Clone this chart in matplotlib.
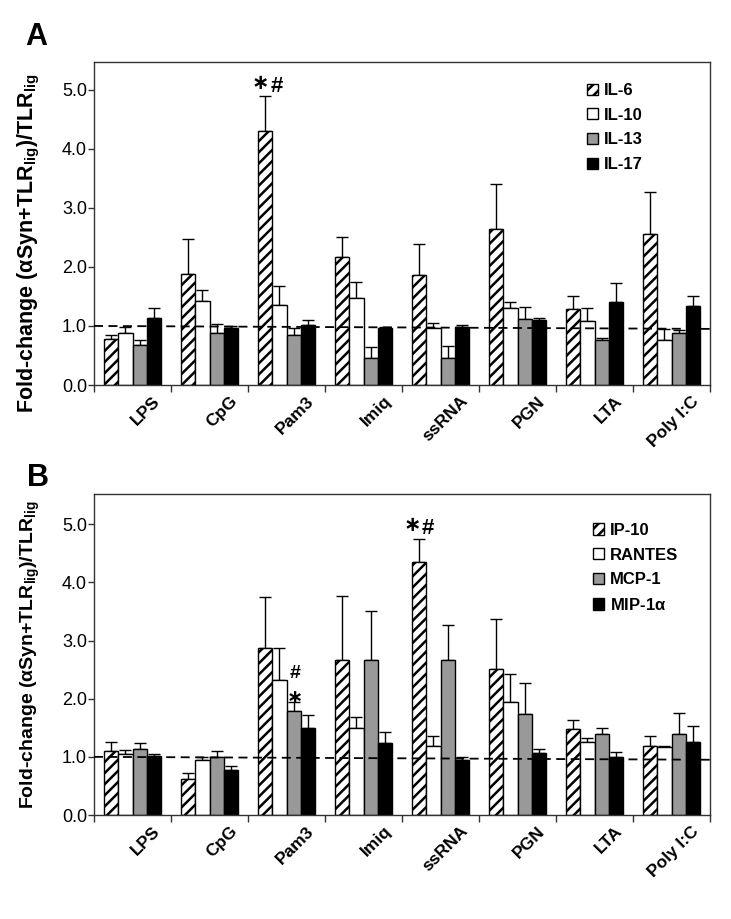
import matplotlib
matplotlib.use("Agg")
import matplotlib.pyplot as plt
import matplotlib.patches as mpatches
from matplotlib.transforms import ScaledTranslation
import numpy as np

plt.rcParams['font.family'] = ['Liberation Sans', 'DejaVu Sans']
plt.rcParams['mathtext.fontset'] = 'custom'
plt.rcParams['mathtext.rm'] = 'Liberation Sans:bold'
plt.rcParams['mathtext.bf'] = 'Liberation Sans:bold'
plt.rcParams['mathtext.it'] = 'Liberation Sans:bold'
plt.rcParams['hatch.linewidth'] = 1.8

categories = ["LPS", "CpG", "Pam3", "Imiq", "ssRNA", "PGN", "LTA", "Poly I:C"]

# Panel A
series_a = ["IL-6", "IL-10", "IL-13", "IL-17"]
il6 = [0.78, 1.88, 4.30, 2.17, 1.86, 2.64, 1.28, 2.56]
il6_err = [0.07, 0.59, 0.60, 0.33, 0.53, 0.77, 0.22, 0.71]
il10 = [0.88, 1.42, 1.35, 1.48, 0.97, 1.30, 1.08, 0.76]
il10_err = [0.10, 0.19, 0.33, 0.26, 0.08, 0.10, 0.22, 0.19]
il13 = [0.67, 0.88, 0.84, 0.45, 0.46, 1.12, 0.76, 0.88]
il13_err = [0.10, 0.15, 0.12, 0.20, 0.20, 0.20, 0.04, 0.05]
il17 = [1.13, 0.96, 1.01, 0.96, 0.98, 1.10, 1.40, 1.34]
il17_err = [0.17, 0.04, 0.09, 0.02, 0.04, 0.03, 0.32, 0.16]

# Panel B
series_b = ["IP-10", "RANTES", "MCP-1", r"MIP-1$\mathregular{\alpha}$"]
ip10 = [1.10, 0.62, 2.87, 2.66, 4.35, 2.51, 1.48, 1.18]
ip10_err = [0.15, 0.11, 0.88, 1.10, 0.39, 0.86, 0.15, 0.18]
rantes = [1.05, 0.95, 2.32, 1.50, 1.18, 1.94, 1.25, 1.17]
rantes_err = [0.07, 0.05, 0.55, 0.18, 0.18, 0.48, 0.07, 0.01]
mcp1 = [1.13, 1.00, 1.79, 2.66, 2.66, 1.74, 1.39, 1.39]
mcp1_err = [0.11, 0.10, 0.15, 0.84, 0.61, 0.53, 0.11, 0.37]
mip1a = [1.01, 0.78, 1.50, 1.24, 0.95, 1.06, 0.99, 1.26]
mip1a_err = [0.04, 0.06, 0.22, 0.19, 0.04, 0.08, 0.09, 0.27]

fills = ['white', 'white', '#999999', 'black']
hatches = ['///', None, None, None]

W, H = 731, 919
fig = plt.figure(figsize=(W / 100, H / 100), dpi=100)

def px_axes(left, top, right, bottom):
    return fig.add_axes([left / W, 1 - bottom / H, (right - left) / W, (bottom - top) / H])

axA = px_axes(94, 62, 710, 385)
axB = px_axes(94, 494, 710, 815)

bw = 0.182
YLABEL = r'Fold-change ($\mathregular{\alpha}$Syn+TLR$_{\mathregular{lig}}$)/TLR$_{\mathregular{lig}}$'

def draw(ax, vals, errs, names, ytop, leg_anchor, ylab_size):
    x = np.arange(len(categories))
    handles = []
    for j, (v, e) in enumerate(zip(vals, errs)):
        pos = x + (j - 1.5) * bw
        ax.bar(pos, v, width=bw, color=fills[j], edgecolor='black', linewidth=1.0,
               hatch=hatches[j], zorder=2)
        ax.errorbar(pos, v, yerr=[np.zeros(len(v)), e], fmt='none', ecolor='black',
                    elinewidth=1.0, capsize=4.5, capthick=1.0, zorder=1)
        handles.append(mpatches.Patch(facecolor=fills[j], edgecolor='black', linewidth=1.0,
                                      hatch=hatches[j], label=names[j]))
    ax.plot([-0.5, 7.5], [1.0, 0.95], color='black', linestyle=(0, (5, 3)), linewidth=1.3, zorder=3)
    ax.set_xlim(-0.5, 7.5)
    ax.set_ylim(0, ytop)
    ax.set_yticks([0, 1, 2, 3, 4, 5])
    ax.set_yticklabels(['0.0', '1.0', '2.0', '3.0', '4.0', '5.0'], fontsize=13)
    ax.set_xticks(np.arange(-0.5, 8.0, 1.0))
    ax.set_xticklabels([])
    ax.tick_params(axis='x', which='major', length=5, width=1.0, direction='out', color='#333333')
    ax.tick_params(axis='y', length=4, width=1.0, direction='out', pad=1, color='#333333')
    ax.set_xticks(x, minor=True)
    ax.set_xticklabels(categories, minor=True, rotation=45, ha='right', va='top',
                       rotation_mode='anchor', fontsize=12.5, fontweight='bold')
    ax.tick_params(axis='x', which='minor', length=0, pad=6)
    for lab in ax.get_xticklabels(minor=True):
        lab.set_transform(lab.get_transform() + ScaledTranslation(0.2, 0, fig.dpi_scale_trans))
    for s in ax.spines.values():
        s.set_color('#333333')
        s.set_linewidth(1.0)
    ax.set_ylabel(YLABEL, fontsize=ylab_size, fontweight='bold')
    ax.legend(handles=handles, loc='upper left', bbox_to_anchor=leg_anchor, frameon=False,
              prop={'weight': 'bold', 'size': 12}, handlelength=0.65, handleheight=0.65,
              handletextpad=0.35, labelspacing=0.58, borderpad=0, borderaxespad=0)

draw(axA, [il6, il10, il13, il17], [il6_err, il10_err, il13_err, il17_err], series_a, 5.47,
     (0.80, 0.935), 15.5)
draw(axB, [ip10, rantes, mcp1, mip1a], [ip10_err, rantes_err, mcp1_err, mip1a_err], series_b, 5.52,
     (0.81, 0.91), 14)

axA.yaxis.set_label_coords(-0.085, 0.44)
axB.yaxis.set_label_coords(-0.085, 0.50)

# significance markers (asterisk operator glyph and hash sign)
def star(ax, xd, yc, size=15):
    ax.text(xd, yc, '\u2217', ha='center', va='center_baseline', fontsize=size,
            fontweight='bold', family=['DejaVu Sans'])

def hashm(ax, xd, yc, size=16):
    ax.text(xd, yc, '#', ha='center', va='center_baseline', fontsize=size, fontweight='bold')

star(axA, 2 - 1.5 * bw - 0.07, 5.15)
hashm(axA, 2 - 1.5 * bw + 0.15, 5.10)
star(axB, 4 - 1.5 * bw - 0.09, 5.02)
hashm(axB, 4 - 1.5 * bw + 0.11, 4.97)
star(axB, 2 + 0.5 * bw + 0.02, 2.06, size=14)
hashm(axB, 2 + 0.5 * bw + 0.02, 2.46, size=14)

fig.text(25 / W, 1 - 45 / H, 'A', fontsize=22, fontweight='bold', ha='left', va='baseline')
fig.text(27 / W, 1 - 486 / H, 'B', fontsize=22, fontweight='bold', ha='left', va='baseline')

fig.savefig('out.png', dpi=100)
